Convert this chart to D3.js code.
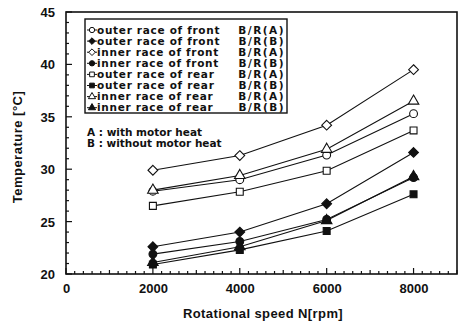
<!doctype html>
<html>
<head>
<meta charset="utf-8">
<style>
  body { margin: 0; background: #fff; }
  text { font-family: "Liberation Sans", Arial, sans-serif; font-weight: bold; fill: #111; }
  .legend text, .notes text { font-family: "DejaVu Sans", sans-serif; }
</style>
</head>
<body>
<div class="chart"></div>
<script src="https://d3js.org/d3.v7.min.js"></script>
<script>
    // data
    let speeds = [2000, 4000, 6000, 8000];
    let seriesNames = [
        'outer race of front',
        'outer race of front',
        'inner race of front',
        'inner race of front',
        'outer race of rear',
        'outer race of rear',
        'inner race of rear',
        'inner race of rear'
    ];
    let seriesTags = ['B/R(A)', 'B/R(B)', 'B/R(A)', 'B/R(B)', 'B/R(A)', 'B/R(B)', 'B/R(A)', 'B/R(B)'];
    let outerFrontA = [27.9, 29.0, 31.35, 35.3];
    let outerFrontB = [22.6, 24.0, 26.7, 31.6];
    let innerFrontA = [29.9, 31.3, 34.2, 39.5];
    let innerFrontB = [21.9, 23.1, 25.2, 29.2];
    let outerRearA = [26.5, 27.85, 29.85, 33.7];
    let outerRearB = [20.9, 22.3, 24.1, 27.6];
    let innerRearA = [28.0, 29.4, 31.9, 36.5];
    let innerRearB = [21.1, 22.6, 25.1, 29.3];
    let yTicks = [20, 25, 30, 35, 40, 45];
    let xTicks = [0, 2000, 4000, 6000, 8000];
    let noteLines = ['A : with motor heat', 'B : without motor heat'];

    let width = 460, height = 326;
    let plot = {left: 66, right: 457, top: 12, bottom: 274};

    // square diamond (d3's one is too tall)
    let squareDiamond = {
        draw(context, size) {
            let r = Math.sqrt(size / 2);
            context.moveTo(0, -r);
            context.lineTo(r, 0);
            context.lineTo(0, r);
            context.lineTo(-r, 0);
            context.closePath();
        }
    };

    let shapes = [d3.symbolCircle, squareDiamond, squareDiamond, d3.symbolCircle,
        d3.symbolSquare, d3.symbolSquare, d3.symbolTriangle, d3.symbolTriangle];
    let valueLists = [outerFrontA, outerFrontB, innerFrontA, innerFrontB,
        outerRearA, outerRearB, innerRearA, innerRearB];

    let series = seriesNames.map((name, i) => ({
        name: name,
        tag: seriesTags[i],
        values: valueLists[i],
        shape: shapes[i],
        filled: i % 2 === 1
    }));

    let x = d3.scaleLinear().domain([0, 9000]).range([plot.left, plot.right]);
    let y = d3.scaleLinear().domain([20, 45]).range([plot.bottom, plot.top]);

    let svg = d3.select('.chart').append('svg')
        .attr('width', width)
        .attr('height', height);

    // frame
    svg.append('rect')
        .attr('x', plot.left).attr('y', plot.top)
        .attr('width', plot.right - plot.left)
        .attr('height', plot.bottom - plot.top)
        .attr('fill', 'none').attr('stroke', '#111').attr('stroke-width', 1.6);

    // minor ticks, pointing inward
    let ticks = svg.append('g').attr('stroke', '#111');
    d3.range(20, 45.01, 1).forEach(v => {
        let len = v % 5 === 0 ? 6 : 3;
        ticks.append('line')
            .attr('x1', plot.left).attr('x2', plot.left + len)
            .attr('y1', y(v)).attr('y2', y(v)).attr('stroke-width', 1.2);
    });
    d3.range(0, 9000.1, 200).forEach(v => {
        let len = v % 2000 === 0 ? 6 : (v % 1000 === 0 ? 4 : 3);
        ticks.append('line')
            .attr('x1', x(v)).attr('x2', x(v))
            .attr('y1', plot.bottom).attr('y2', plot.bottom - len).attr('stroke-width', 1.2);
    });

    // tick labels
    let yAxis = d3.axisLeft(y).tickValues(yTicks).tickSize(0).tickPadding(11);
    svg.append('g').attr('transform', `translate(${plot.left},0)`).call(yAxis)
        .call(g => g.select('.domain').remove())
        .selectAll('text').style('font-size', '13px').attr('dy', '0.35em');

    let xAxis = d3.axisBottom(x).tickValues(xTicks).tickFormat(d3.format('d')).tickSize(0).tickPadding(10);
    svg.append('g').attr('transform', `translate(0,${plot.bottom})`).call(xAxis)
        .call(g => g.select('.domain').remove())
        .selectAll('text').style('font-size', '13px');

    // axis titles
    svg.append('text')
        .attr('x', 263).attr('y', 318)
        .attr('text-anchor', 'middle')
        .style('font-size', '13px')
        .style('letter-spacing', '0.4px')
        .text('Rotational speed N[rpm]');

    svg.append('text')
        .attr('transform', `translate(22,147) rotate(-90)`)
        .attr('text-anchor', 'middle')
        .style('font-size', '13px')
        .style('letter-spacing', '0.5px')
        .text('Temperature [°C]');

    // lines and markers
    let line = d3.line().x((d, i) => x(speeds[i])).y(d => y(d));
    let symbol = d3.symbol().size(48);

    let groups = svg.append('g').selectAll('g')
        .data(series)
        .join('g');

    groups.append('path')
        .attr('d', d => line(d.values))
        .attr('fill', 'none').attr('stroke', '#111').attr('stroke-width', 1.1);

    groups.selectAll('path.marker')
        .data(d => d.values.map((v, i) => ({v: v, i: i, s: d})))
        .join('path')
        .attr('class', 'marker')
        .attr('transform', d => `translate(${x(speeds[d.i])},${y(d.v)})`)
        .attr('d', d => symbol.type(d.s.shape)())
        .attr('fill', d => d.s.filled ? '#111' : '#fff')
        .attr('stroke', '#111').attr('stroke-width', 1.1);

    // legend
    let legend = svg.append('g').attr('class', 'legend');
    legend.append('rect')
        .attr('x', 85).attr('y', 19).attr('width', 202).attr('height', 94)
        .attr('fill', '#fff').attr('stroke', '#111').attr('stroke-width', 1.4);

    let legendSymbol = d3.symbol().size(22);
    let rows = legend.selectAll('g.row')
        .data(series)
        .join('g')
        .attr('class', 'row')
        .attr('transform', (d, i) => `translate(0,${30 + i * 11.1})`);

    rows.append('line')
        .attr('x1', 87).attr('x2', 97).attr('y1', 0).attr('y2', 0)
        .attr('stroke', '#111').attr('stroke-width', 1);
    rows.append('path')
        .attr('transform', 'translate(92,0)')
        .attr('d', d => legendSymbol.type(d.shape)())
        .attr('fill', d => d.filled ? '#111' : '#fff')
        .attr('stroke', '#111').attr('stroke-width', 1);
    rows.append('text')
        .attr('x', 97).attr('y', 0).attr('dy', '0.35em')
        .style('font-size', '10.5px')
        .style('letter-spacing', '0.7px')
        .text(d => d.name);
    rows.append('text')
        .attr('x', 285).attr('y', 0).attr('dy', '0.35em')
        .attr('text-anchor', 'end')
        .style('font-size', '10.5px')
        .style('letter-spacing', '1.5px')
        .text(d => d.tag);

    svg.append('g').attr('class', 'notes').selectAll('text')
        .data(noteLines)
        .join('text')
        .attr('x', 87).attr('y', (d, i) => 132 + i * 11.5)
        .attr('dy', '0.35em')
        .style('font-size', '10.5px')
        .text(d => d);
</script>
</body>
</html>
